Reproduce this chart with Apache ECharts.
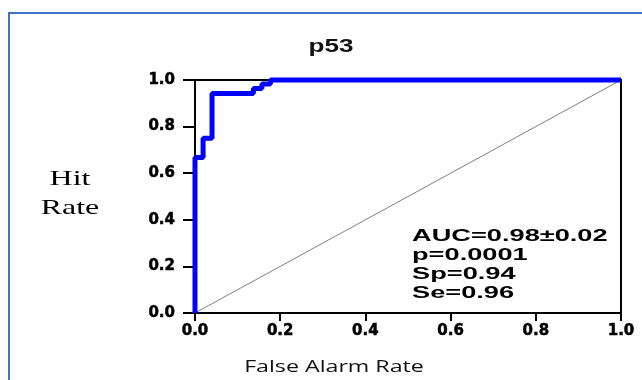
<!DOCTYPE html>
<html>
<head>
<meta charset="utf-8">
<script src="https://cdn.jsdelivr.net/npm/echarts@6/dist/echarts.min.js"></script>
<style>
  html, body { margin: 0; padding: 0; background: #fff; }
  #chart { width: 642px; height: 380px; }
</style>
</head>
<body>
<div id="chart"></div>
<script>
// ROC curve (p53)
var falseAlarmRate = [0, 0, 0.019, 0.04, 0.137, 0.157, 0.177, 1.0];
var hitRate        = [0, 0.667, 0.75, 0.942, 0.963, 0.983, 1.0, 1.0];
var chanceX = [0, 1];
var chanceY = [0, 1];
var tickValues = [0, 0.2, 0.4, 0.6, 0.8, 1.0];
var chartTitle = 'p53';
var statsLines = ['AUC=0.98\u00b10.02', 'p=0.0001', 'Sp=0.94', 'Se=0.96'];

var rocData = falseAlarmRate.map(function (x, i) { return [x, hitRate[i]]; });
var chanceData = chanceX.map(function (x, i) { return [x, chanceY[i]]; });

var chart = echarts.init(document.getElementById('chart'), null, { renderer: 'canvas' });

var axisLabelStyle = {
  color: '#000',
  fontFamily: 'DejaVu Sans',
  fontWeight: 'bold',
  fontSize: 15,
  textBorderColor: '#000',
  textBorderWidth: 0.5,
  formatter: function (v) { return v.toFixed(1); }
};

chart.setOption({
  animation: false,
  backgroundColor: '#ffffff',
  grid: {
    left: 195, right: 21, top: 80, bottom: 67,
    show: true, borderColor: '#000', borderWidth: 2, backgroundColor: 'transparent'
  },
  xAxis: {
    type: 'value', min: tickValues[0], max: tickValues[tickValues.length - 1], interval: 0.2,
    splitLine: { show: false },
    axisLine: { show: true, onZero: false, lineStyle: { color: '#000', width: 2 } },
    axisTick: { show: true, length: 8, lineStyle: { color: '#000', width: 2 } },
    axisLabel: Object.assign({ margin: 11 }, axisLabelStyle)
  },
  yAxis: {
    type: 'value', min: tickValues[0], max: tickValues[tickValues.length - 1], interval: 0.2,
    splitLine: { show: false },
    axisLine: { show: true, onZero: false, lineStyle: { color: '#000', width: 2 } },
    axisTick: { show: true, length: 12, lineStyle: { color: '#000', width: 2 } },
    axisLabel: Object.assign({ margin: 20 }, axisLabelStyle)
  },
  series: [
    {
      type: 'line', data: chanceData, symbol: 'none', silent: true,
      lineStyle: { color: '#808080', width: 1 }, z: 2
    },
    {
      type: 'line', data: rocData, step: 'end', symbol: 'none', clip: false,
      lineStyle: { color: '#0000ff', width: 5 }, z: 3
    }
  ],
  graphic: [
    {
      type: 'rect', silent: true, z: -10,
      shape: { x: 9, y: 13, width: 700, height: 420 },
      style: { fill: 'none', stroke: '#4472c4', lineWidth: 2 }
    },
    {
      type: 'text', x: 331, y: 47, scaleX: 1.45,
      style: { text: chartTitle, font: 'bold 18px "Liberation Sans", Arial, sans-serif',
               fill: '#111', align: 'center', verticalAlign: 'middle' }
    },
    {
      type: 'text', x: 70, y: 194, scaleX: 1.45,
      style: { text: 'Hit\nRate', font: '22px "Liberation Serif", "Times New Roman", serif',
               lineHeight: 29, fill: '#000', align: 'center', verticalAlign: 'middle' }
    },
    {
      type: 'text', x: 334, y: 367, scaleX: 1.45,
      style: { text: 'False Alarm Rate', font: '16px "Open Sans", sans-serif',
               fill: '#111', align: 'center', verticalAlign: 'middle' }
    },
    {
      type: 'text', x: 412, y: 265, scaleX: 1.6,
      style: { text: statsLines.join('\n'), font: 'bold 17px "Liberation Sans", Arial, sans-serif',
               lineHeight: 19, fill: '#000', align: 'left', verticalAlign: 'middle' }
    }
  ]
});
</script>
</body>
</html>
